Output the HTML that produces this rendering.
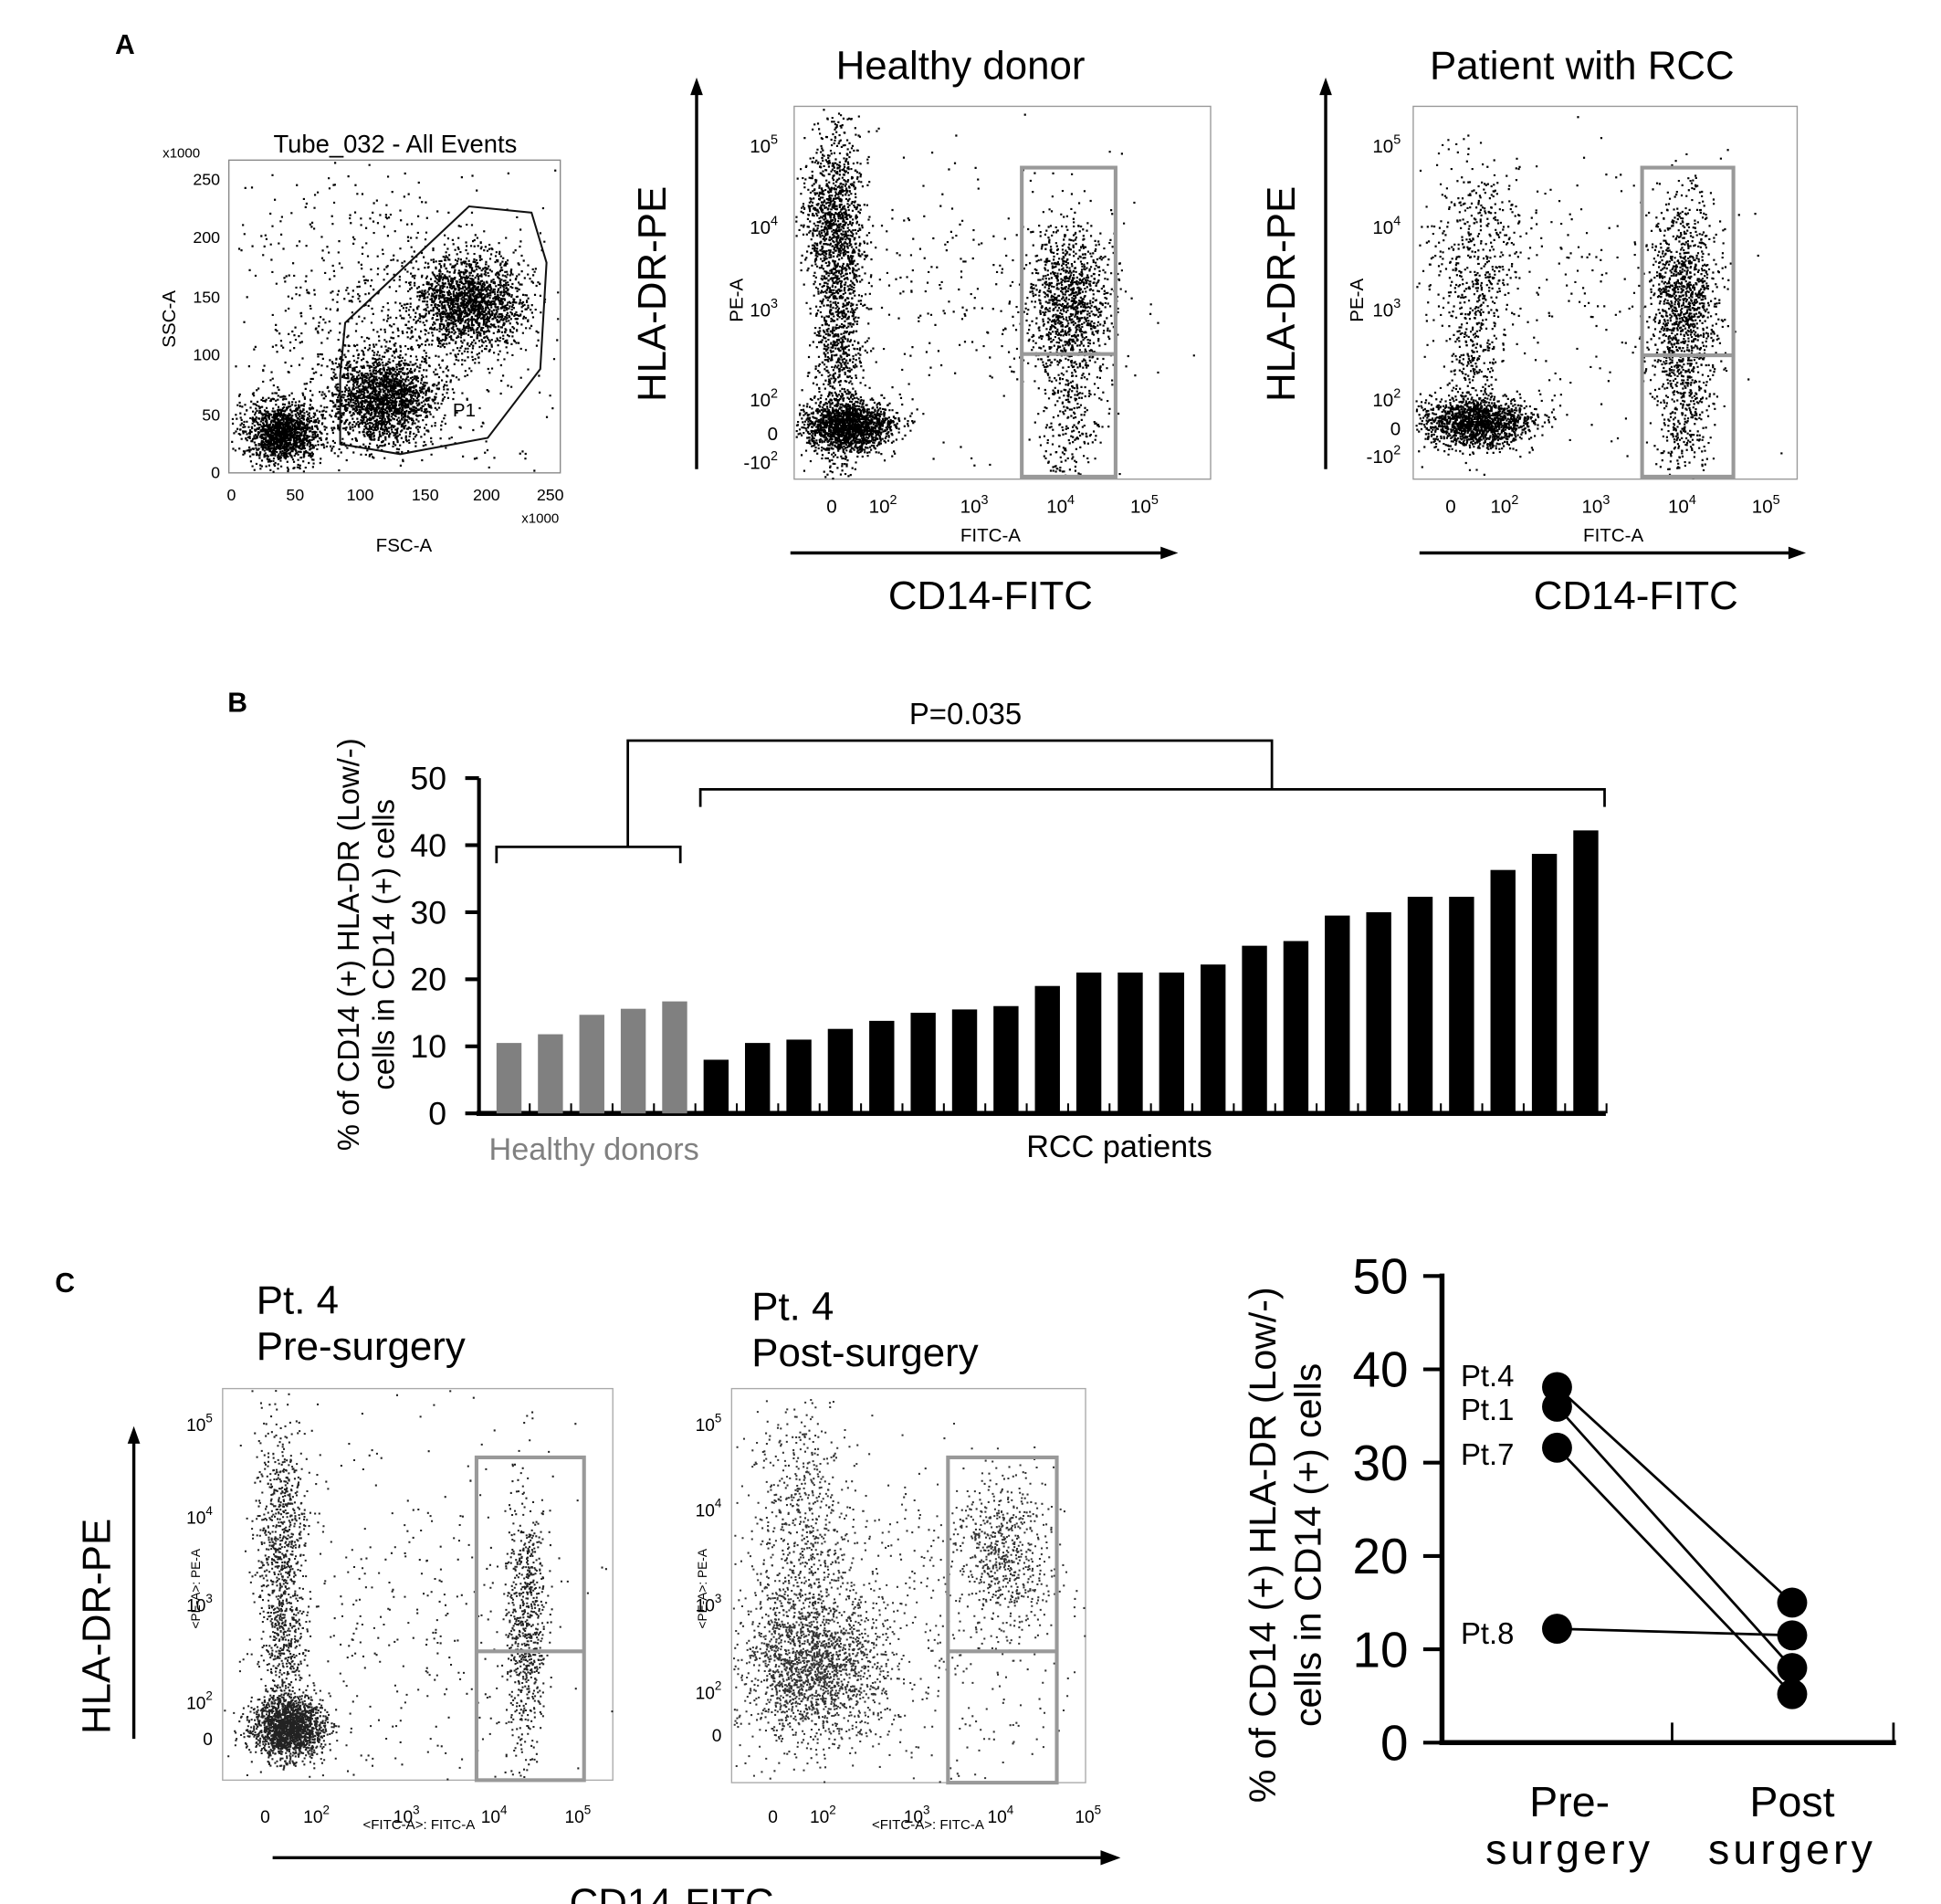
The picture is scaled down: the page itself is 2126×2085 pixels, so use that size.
<!DOCTYPE html>
<html><head><meta charset="utf-8"><style>
html,body{margin:0;padding:0;background:#fff}
svg{display:block}
text{font-family:"Liberation Sans",sans-serif}
</style></head><body>
<svg id="fig" width="2126" height="2085" viewBox="0 0 1552 1522" preserveAspectRatio="none" xmlns="http://www.w3.org/2000/svg">
<rect width="1552" height="1522" fill="#fff"/>
<text x="92" y="43" font-family="Liberation Serif" font-weight="bold" font-size="22">A</text>
<text x="182" y="569" font-family="Liberation Serif" font-weight="bold" font-size="22">B</text>
<text x="44" y="1033" font-family="Liberation Serif" font-weight="bold" font-size="22">C</text>

<!-- Plot 1 FSC/SSC -->
<g>
<rect x="183" y="128" width="265" height="250" fill="none" stroke="#888" stroke-width="1"/>
<text x="316" y="122" text-anchor="middle" font-size="20">Tube_032 - All Events</text>
<g id="p1"></g>
<polygon points="272,300 276,258 375,165 425,170 437,210 432,295 390,350 320,363 272,355" fill="none" stroke="#111" stroke-width="1.5"/>
<text x="362" y="333" font-size="15">P1</text>
<g font-size="13" text-anchor="middle">
<text x="185" y="400">0</text><text x="236" y="400">50</text><text x="288" y="400">100</text><text x="340" y="400">150</text><text x="389" y="400">200</text><text x="440" y="400">250</text>
<text x="432" y="418" font-size="11">x1000</text>
</g>
<g font-size="13" text-anchor="end">
<text x="176" y="382">0</text><text x="176" y="336">50</text><text x="176" y="288">100</text><text x="176" y="242">150</text><text x="176" y="194">200</text><text x="176" y="148">250</text>
<text x="160" y="126" font-size="11">x1000</text>
</g>
<text x="323" y="441" text-anchor="middle" font-size="15">FSC-A</text>
<text transform="translate(140,255) rotate(-90)" text-anchor="middle" font-size="15">SSC-A</text>
</g>

<!-- Plot 2 healthy -->
<g>
<text x="768" y="63" text-anchor="middle" font-size="32">Healthy donor</text>
<rect x="635" y="85" width="333" height="298" fill="none" stroke="#999"/>
<g id="p2"></g>
<rect x="817" y="134" width="75" height="247" fill="none" stroke="#999" stroke-width="3"/>
<line x1="817" y1="283" x2="892" y2="283" stroke="#999" stroke-width="3"/>
<line x1="557" y1="375" x2="557" y2="72" stroke="#000" stroke-width="2.5"/><polygon points="557,62 552,76 562,76"/>
<text transform="translate(532,235) rotate(-90)" text-anchor="middle" font-size="32">HLA-DR-PE</text>
<line x1="632" y1="442" x2="930" y2="442" stroke="#000" stroke-width="2.5"/><polygon points="942,442 928,437 928,447"/>
<text x="792" y="487" text-anchor="middle" font-size="32">CD14-FITC</text>
<text transform="translate(594,240) rotate(-90)" text-anchor="middle" font-size="15">PE-A</text>
<text x="792" y="433" text-anchor="middle" font-size="15">FITC-A</text>
</g>

<!-- Plot 3 patient -->
<g>
<text x="1265" y="63" text-anchor="middle" font-size="32">Patient with RCC</text>
<rect x="1130" y="85" width="307" height="298" fill="none" stroke="#999"/>
<g id="p3"></g>
<rect x="1313" y="134" width="73" height="247" fill="none" stroke="#999" stroke-width="3"/>
<line x1="1313" y1="284" x2="1386" y2="284" stroke="#999" stroke-width="3"/>
<line x1="1060" y1="375" x2="1060" y2="72" stroke="#000" stroke-width="2.5"/><polygon points="1060,62 1055,76 1065,76"/>
<text transform="translate(1035,235) rotate(-90)" text-anchor="middle" font-size="32">HLA-DR-PE</text>
<line x1="1135" y1="442" x2="1432" y2="442" stroke="#000" stroke-width="2.5"/><polygon points="1444,442 1430,437 1430,447"/>
<text x="1308" y="487" text-anchor="middle" font-size="32">CD14-FITC</text>
<text transform="translate(1090,240) rotate(-90)" text-anchor="middle" font-size="15">PE-A</text>
<text x="1290" y="433" text-anchor="middle" font-size="15">FITC-A</text>
</g>

<!-- Panel C left plots -->
<g>
<text x="205" y="1050" font-size="32">Pt. 4</text>
<text x="205" y="1087" font-size="32">Pre-surgery</text>
<rect x="178" y="1110" width="312" height="313" fill="none" stroke="#aaa"/>
<g id="p4"></g>
<rect x="381" y="1165" width="86" height="258" fill="none" stroke="#999" stroke-width="3"/>
<line x1="381" y1="1320" x2="467" y2="1320" stroke="#999" stroke-width="3"/>
<text transform="translate(160,1270) rotate(-90)" text-anchor="middle" font-size="10">&lt;PE-A&gt;: PE-A</text>
<text x="335" y="1462" text-anchor="middle" font-size="11">&lt;FITC-A&gt;: FITC-A</text>
</g>
<g>
<text x="601" y="1055" font-size="32">Pt. 4</text>
<text x="601" y="1092" font-size="32">Post-surgery</text>
<rect x="585" y="1110" width="283" height="315" fill="none" stroke="#aaa"/>
<g id="p5"></g>
<rect x="758" y="1165" width="87" height="260" fill="none" stroke="#999" stroke-width="3"/>
<line x1="758" y1="1320" x2="845" y2="1320" stroke="#999" stroke-width="3"/>
<text transform="translate(565,1270) rotate(-90)" text-anchor="middle" font-size="10">&lt;PE-A&gt;: PE-A</text>
<text x="742" y="1462" text-anchor="middle" font-size="11">&lt;FITC-A&gt;: FITC-A</text>
</g>
<line x1="107" y1="1390" x2="107" y2="1152" stroke="#000" stroke-width="2.5"/><polygon points="107,1140 102,1154 112,1154"/>
<text transform="translate(88,1300) rotate(-90)" text-anchor="middle" font-size="32">HLA-DR-PE</text>
<line x1="218" y1="1485" x2="882" y2="1485" stroke="#000" stroke-width="2.5"/><polygon points="896,1485 880,1479 880,1491"/>
<text x="537" y="1532" text-anchor="middle" font-size="32">CD14-FITC</text>

<g id="logticks"></g>
<g id="barchart"></g>
<g id="linechart"></g>
</svg>
<script>
const NS="http://www.w3.org/2000/svg";
// ---- Panel B data ----
const healthyValues=[10.5,11.8,14.7,15.6,16.7];
const rccValues=[8,10.5,11,12.6,13.8,15,15.5,16,19,21,21,21,22.2,25,25.7,29.5,30,32.3,32.3,36.3,38.7,42.2];
const barTicks=[0,10,20,30,40,50];
// ---- Panel C data ----
const patients=["Pt.4","Pt.1","Pt.7","Pt.8"];
const preValues=[38.1,36,31.6,12.2];
const postValues=[15,8,5.2,11.5];
const lineTicks=[0,10,20,30,40,50];

function el(tag,attrs,parent,txt){const e=document.createElementNS(NS,tag);for(const k in attrs)e.setAttribute(k,attrs[k]);if(txt!==undefined)e.textContent=txt;parent.appendChild(e);return e;}

// Bar chart
(function(){
const g=document.getElementById('barchart');
const y=v=>890-v*(890-622)/50;
const n=healthyValues.length+rccValues.length;
const x0=407,step=(1268-407)/(n-1),bw=20;
const xi=i=>x0+i*step;
el('line',{x1:383,y1:622,x2:383,y2:890,stroke:'#000','stroke-width':3},g);
el('line',{x1:381,y1:890,x2:1284,y2:890,stroke:'#000','stroke-width':4},g);
barTicks.forEach(t=>{
 el('line',{x1:372,y1:y(t),x2:383,y2:y(t),stroke:'#000','stroke-width':3},g);
 const tx=el('text',{x:357,y:y(t)+9,'text-anchor':'end','font-size':26},g,String(t));
 
 
});
for(let i=0;i<n;i++){el('line',{x1:xi(i)+step/2,y1:882,x2:xi(i)+step/2,y2:890,stroke:'#000','stroke-width':1.5},g);}
healthyValues.forEach((v,i)=>{
 const r=el('rect',{x:xi(i)-bw/2,y:y(v),width:bw,height:890-y(v),fill:'#808080'},g);
 
 
});
rccValues.forEach((v,j)=>{
 const i=j+healthyValues.length;
 const r=el('rect',{x:xi(i)-bw/2,y:y(v),width:bw,height:890-y(v),fill:'#000'},g);
 
 
});
const br={fill:'none',stroke:'#000','stroke-width':2};
el('polyline',Object.assign({points:'397,690 397,677 544,677 544,690'},br),g);
el('polyline',Object.assign({points:'560,645 560,631 1283,631 1283,645'},br),g);
el('polyline',Object.assign({points:'502,677 502,592 1017,592 1017,631'},br),g);
el('text',{x:772,y:579,'text-anchor':'middle','font-size':24},g,'P=0.035');
el('text',{x:475,y:927,'text-anchor':'middle','font-size':25,fill:'#808080'},g,'Healthy donors');
el('text',{x:895,y:925,'text-anchor':'middle','font-size':25},g,'RCC patients');
el('text',{transform:'translate(287,755) rotate(-90)','text-anchor':'middle','font-size':24},g,'% of CD14 (+) HLA-DR (Low/-)');
el('text',{transform:'translate(315,755) rotate(-90)','text-anchor':'middle','font-size':24},g,'cells in CD14 (+) cells');
})();

// Paired line chart
(function(){
const g=document.getElementById('linechart');
const y=v=>1393-v*(1393-1020)/50;
const xs=[1245,1433];
el('line',{x1:1153,y1:1018,x2:1153,y2:1395,stroke:'#000','stroke-width':4},g);
el('line',{x1:1151,y1:1393,x2:1516,y2:1393,stroke:'#000','stroke-width':4},g);
el('line',{x1:1337,y1:1377,x2:1337,y2:1393,stroke:'#000','stroke-width':2},g);
el('line',{x1:1514,y1:1377,x2:1514,y2:1393,stroke:'#000','stroke-width':2},g);
lineTicks.forEach(t=>{
 el('line',{x1:1138,y1:y(t),x2:1153,y2:y(t),stroke:'#000','stroke-width':3},g);
 const tx=el('text',{x:1126,y:y(t)+14,'text-anchor':'end','font-size':40},g,String(t));
 
 
});
patients.forEach((p,i)=>{
 el('line',{x1:xs[0],y1:y(preValues[i]),x2:xs[1],y2:y(postValues[i]),stroke:'#000','stroke-width':2},g);
});
patients.forEach((p,i)=>{
 const a=el('circle',{cx:xs[0],cy:y(preValues[i]),r:12,fill:'#000'},g);
 
 
 const b=el('circle',{cx:xs[1],cy:y(postValues[i]),r:12,fill:'#000'},g);
 
 
});
// labels stacked
const ly=[1108,1135,1171,1314];
patients.forEach((p,i)=>el('text',{x:1168,y:ly[i],'font-size':24},g,p));
el('text',{x:1255,y:1452,'text-anchor':'middle','font-size':34},g,'Pre-');
el('text',{x:1255,y:1490,'text-anchor':'middle','font-size':34,'letter-spacing':3},g,'surgery');
el('text',{x:1433,y:1452,'text-anchor':'middle','font-size':34},g,'Post');
el('text',{x:1433,y:1490,'text-anchor':'middle','font-size':34,'letter-spacing':3},g,'surgery');
el('text',{transform:'translate(1020,1235) rotate(-90)','text-anchor':'middle','font-size':30},g,'% of CD14 (+) HLA-DR (Low/-)');
el('text',{transform:'translate(1056,1235) rotate(-90)','text-anchor':'middle','font-size':30},g,'cells in CD14 (+) cells');
})();

// Flow cytometry log tick labels
(function(){
const g=document.getElementById('logticks');
function logAxes(xPos,yBase,yPos,xLeft,fs){
 const lbl=['0','10','10','10','10'],sup=['','2','3','4','5'];
 xPos.forEach((x,i)=>{const t=el('text',{x:x,y:yBase,'text-anchor':'middle','font-size':fs},g,lbl[i]);if(sup[i])el('tspan',{dy:-7,'font-size':fs*0.7},t,sup[i]);});
 const yl=[['10','5'],['10','4'],['10','3'],['10','2'],['0',''],['-10','2']];
 yPos.forEach((y,i)=>{if(y==null)return;const t=el('text',{x:xLeft,y:y,'text-anchor':'end','font-size':fs},g,yl[i][0]);if(yl[i][1])el('tspan',{dy:-7,'font-size':fs*0.7},t,yl[i][1]);});
}
logAxes([665,706,779,848,915],410,[122,187,253,325,352,375],622,15);
logAxes([1160,1203,1276,1345,1412],410,[122,187,253,325,348,370],1120,15);
logAxes([212,253,325,395,462],1457,[1144,1218,1288,1366,1395,null],170,14);
logAxes([618,658,733,800,870],1457,[1144,1212,1288,1358,1392,null],577,14);
})();

// scatter textures (event clouds)
let seed=12345;
function rnd(){seed=(seed*1103515245+12345)%2147483648;return seed/2147483648;}
function gauss(){let u=0,v=0;while(u===0)u=rnd();v=rnd();return Math.sqrt(-2*Math.log(u))*Math.cos(2*Math.PI*v);}
function cloud(id,clusters,box,color,size){
 const g=document.getElementById(id);let d='';
 clusters.forEach(c=>{for(let i=0;i<c[4];i++){const x=c[0]+gauss()*c[2],y=c[1]+gauss()*c[3];
  if(x<box[0]||x>box[2]||y<box[1]||y>box[3])continue;d+='M'+x.toFixed(1)+' '+y.toFixed(1)+'h'+size+'v'+size+'h-'+size+'z';}});
 el('path',{d:d,fill:color},g);
}
cloud('p1',[[225,345,15,12,1400],[305,318,20,18,1800],[375,240,22,18,1700],[300,260,60,60,700],[330,300,90,70,300]],[184,129,447,377],'#000',1.6);
cloud('p2',[[678,340,18,10,1600],[670,240,10,80,1500],[662,170,12,25,500],[855,240,18,30,1100],[855,330,12,40,300],[760,230,70,60,250]],[636,86,967,382],'#000',1.6);
cloud('p3',[[1180,337,22,10,1500],[1180,200,20,40,400],[1178,270,10,40,300],[1345,240,14,40,1200],[1345,330,12,30,300],[1250,240,70,70,200]],[1131,86,1436,382],'#000',1.6);
cloud('p4',[[230,1380,14,12,1800],[225,1230,10,50,700],[225,1320,8,30,300],[420,1300,8,55,700],[320,1300,80,80,400]],[179,1111,489,1422],'#222',1.5);
cloud('p5',[[650,1330,28,30,1800],[640,1220,20,50,600],[800,1240,18,30,600],[720,1300,80,70,600]],[586,1111,867,1424],'#333',1.5);
</script>
</body></html>
